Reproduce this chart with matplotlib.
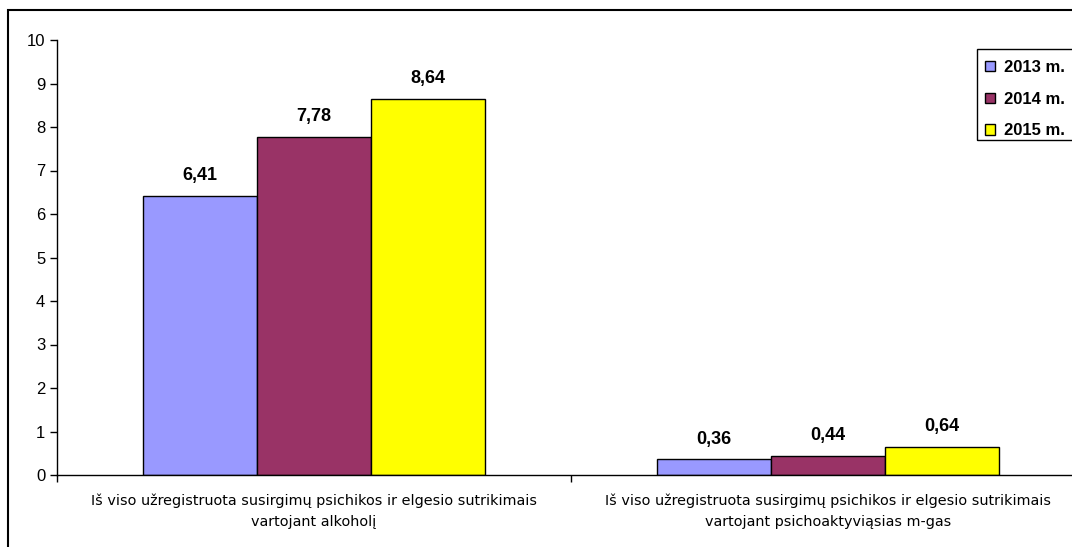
import matplotlib
matplotlib.use("Agg")
import matplotlib.pyplot as plt
from matplotlib.patches import Rectangle
import numpy as np

plt.rcParams['font.family'] = ['Liberation Sans', 'DejaVu Sans']

categories = [
    "Iš viso užregistruota susirgimų psichikos ir elgesio sutrikimais\nvartojant alkoholį",
    "Iš viso užregistruota susirgimų psichikos ir elgesio sutrikimais\nvartojant psichoaktyviąsias m-gas",
]
series_names = ["2013 m.", "2014 m.", "2015 m."]
values_2013 = [6.41, 0.36]
values_2014 = [7.78, 0.44]
values_2015 = [8.64, 0.64]
colors = ["#9999FF", "#993366", "#FFFF00"]

W, H = 1072, 547
fig = plt.figure(figsize=(W / 100, H / 100), dpi=100)

# outer chart frame
fig.patches.append(Rectangle((8 / W, -0.05), 1.1, (H - 10) / H + 0.05,
                             transform=fig.transFigure, fill=False,
                             edgecolor="black", linewidth=1.5))

ax = fig.add_axes([57 / W, 72 / H, (1085 - 57) / W, (475 - 40) / H])

x = np.arange(len(categories))
bw = 0.222
all_vals = [values_2013, values_2014, values_2015]
for i, (vals, name, c) in enumerate(zip(all_vals, series_names, colors)):
    pos = x + (i - 1) * bw
    bars = ax.bar(pos, vals, width=bw, color=c, edgecolor="black",
                  linewidth=1.0, label=name)
    for b, v in zip(bars, vals):
        ax.annotate(f"{v:.2f}".replace(".", ","),
                    (b.get_x() + b.get_width() / 2, v),
                    xytext=(0, 8.5), textcoords="offset points",
                    ha="center", va="bottom", fontsize=13, fontweight="bold")

ax.set_xlim(-0.5, 1.5)
ax.set_ylim(0, 10)
ax.set_yticks(range(0, 11))
ax.tick_params(axis="y", labelsize=12, length=5, width=1, direction="out")
ax.set_xticks(x)
ax.set_xticklabels(categories, fontsize=10.4, linespacing=1.64,
                   family=['DejaVu Sans'])
ax.tick_params(axis="x", which="major", length=0, pad=13.5)
ax.set_xticks([-0.5, 0.5, 1.5], minor=True)
ax.tick_params(axis="x", which="minor", length=5, width=1, direction="out")
for s in ["top", "right"]:
    ax.spines[s].set_visible(False)
ax.spines["left"].set_linewidth(1)
ax.spines["bottom"].set_linewidth(1)

# legend (frame drawn separately)
fig.patches.append(Rectangle((977 / W, 1 - 140 / H), 0.2, 91 / H,
                             transform=fig.transFigure, fill=False,
                             edgecolor="black", linewidth=1.0))
leg = fig.legend(loc="upper left", bbox_to_anchor=(977 / W, 1 - 52.5 / H),
                 frameon=False,
                 prop={"weight": "bold", "size": 12},
                 handlelength=0.6, handleheight=0.6, handletextpad=0.6,
                 labelspacing=1.0, borderpad=0.45, borderaxespad=0)

fig.savefig("out.png", dpi=100)
